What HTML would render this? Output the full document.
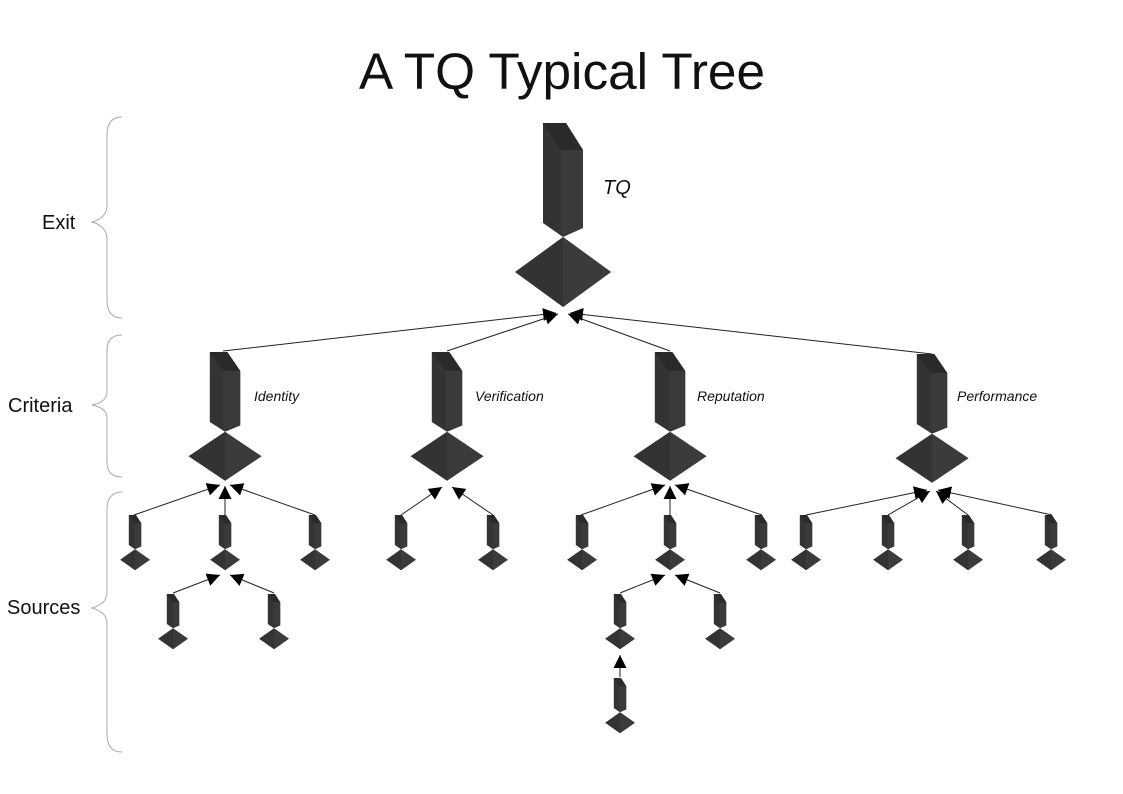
<!DOCTYPE html>
<html><head><meta charset="utf-8"><style>
html,body{margin:0;padding:0;background:#fff;}
svg{display:block;}
text{font-family:"Liberation Sans",sans-serif;}
</style></head><body>
<svg width="1123" height="794" viewBox="0 0 1123 794" xmlns="http://www.w3.org/2000/svg">
<defs>
<g id="nd">
  <polygon points="-20,0 3,0 20,27 20,105 0,114 -20,100" fill="#333"/>
  <polygon points="3,0 20,27 -2,27 -20,0" fill="#2a2a2a"/>
  <polygon points="-2,27 20,27 20,105 -2,112" fill="#3a3a3a"/>
  <polygon points="0,114 -48,149 0,184 48,149" fill="#333"/>
  <polygon points="0,114 48,149 0,184" fill="#3b3b3b"/>
</g>
<marker id="ah" markerUnits="userSpaceOnUse" markerWidth="13" markerHeight="13" viewBox="0 0 10 10" refX="10" refY="5" orient="auto">
  <path d="M0,0 L10,5 L0,10 z" fill="#000"/>
</marker>
</defs>

<text x="562" y="89" font-size="51" text-anchor="middle" fill="#111" textLength="406" lengthAdjust="spacingAndGlyphs">A TQ Typical Tree</text>

<g fill="none" stroke="#aaa" stroke-width="1">
<path d="M122,117 Q107,117 107,135 L107,205 Q107,218 92,222 Q107,226 107,240 L107,300 Q107,318 122,318"/>
<path d="M122,335 Q107,335 107,350 L107,392 Q107,402 92,405 Q107,408 107,418 L107,462 Q107,477 122,477"/>
<path d="M122,492 Q107,492 107,510 L107,592 Q107,604 92,608 Q107,612 107,624 L107,734 Q107,752 122,752"/>
</g>
<text x="42" y="229" font-size="20" fill="#111">Exit</text>
<text x="8" y="412" font-size="20" fill="#111">Criteria</text>
<text x="7" y="614" font-size="20" fill="#111">Sources</text>

<g stroke="#222" stroke-width="1" marker-end="url(#ah)">
<line x1="223" y1="351" x2="556" y2="313"/>
<line x1="447" y1="351" x2="558" y2="314"/>
<line x1="670" y1="351" x2="568" y2="314"/>
<line x1="932" y1="354" x2="570" y2="313"/>

<line x1="134" y1="515" x2="220" y2="485"/>
<line x1="225" y1="515" x2="225" y2="486"/>
<line x1="315" y1="515" x2="230" y2="485"/>
<line x1="173" y1="593" x2="220" y2="575"/>
<line x1="274" y1="593" x2="230" y2="575"/>

<line x1="401" y1="515" x2="442" y2="487"/>
<line x1="493" y1="515" x2="452" y2="487"/>

<line x1="581" y1="515" x2="665" y2="485"/>
<line x1="670" y1="515" x2="670" y2="486"/>
<line x1="762" y1="515" x2="675" y2="485"/>
<line x1="620" y1="593" x2="665" y2="575"/>
<line x1="720" y1="593" x2="675" y2="575"/>
<line x1="620" y1="677" x2="620" y2="655"/>

<line x1="806" y1="515" x2="927" y2="490"/>
<line x1="888" y1="515" x2="930" y2="491"/>
<line x1="968" y1="515" x2="936" y2="491"/>
<line x1="1052" y1="515" x2="938" y2="490"/>
</g>

<use href="#nd" transform="translate(563,123)"/>
<use href="#nd" transform="translate(225,352) scale(0.76,0.7)"/>
<use href="#nd" transform="translate(447,352) scale(0.76,0.7)"/>
<use href="#nd" transform="translate(670,352) scale(0.76,0.7)"/>
<use href="#nd" transform="translate(932,354) scale(0.76,0.7)"/>

<g>
<use href="#nd" transform="translate(135,515) scale(0.31,0.3)"/>
<use href="#nd" transform="translate(225,515) scale(0.31,0.3)"/>
<use href="#nd" transform="translate(315,515) scale(0.31,0.3)"/>
<use href="#nd" transform="translate(173,594) scale(0.31,0.3)"/>
<use href="#nd" transform="translate(274,594) scale(0.31,0.3)"/>
<use href="#nd" transform="translate(401,515) scale(0.31,0.3)"/>
<use href="#nd" transform="translate(493,515) scale(0.31,0.3)"/>
<use href="#nd" transform="translate(582,515) scale(0.31,0.3)"/>
<use href="#nd" transform="translate(670,515) scale(0.31,0.3)"/>
<use href="#nd" transform="translate(761,515) scale(0.31,0.3)"/>
<use href="#nd" transform="translate(620,594) scale(0.31,0.3)"/>
<use href="#nd" transform="translate(720,594) scale(0.31,0.3)"/>
<use href="#nd" transform="translate(620,678) scale(0.31,0.3)"/>
<use href="#nd" transform="translate(806,515) scale(0.31,0.3)"/>
<use href="#nd" transform="translate(888,515) scale(0.31,0.3)"/>
<use href="#nd" transform="translate(968,515) scale(0.31,0.3)"/>
<use href="#nd" transform="translate(1051,515) scale(0.31,0.3)"/>
</g>

<g font-style="italic" fill="#111">
<text x="603" y="194" font-size="20">TQ</text>
<text x="254" y="401" font-size="14">Identity</text>
<text x="475" y="401" font-size="14">Verification</text>
<text x="697" y="401" font-size="14">Reputation</text>
<text x="957" y="401" font-size="14">Performance</text>
</g>
</svg>
</body></html>
